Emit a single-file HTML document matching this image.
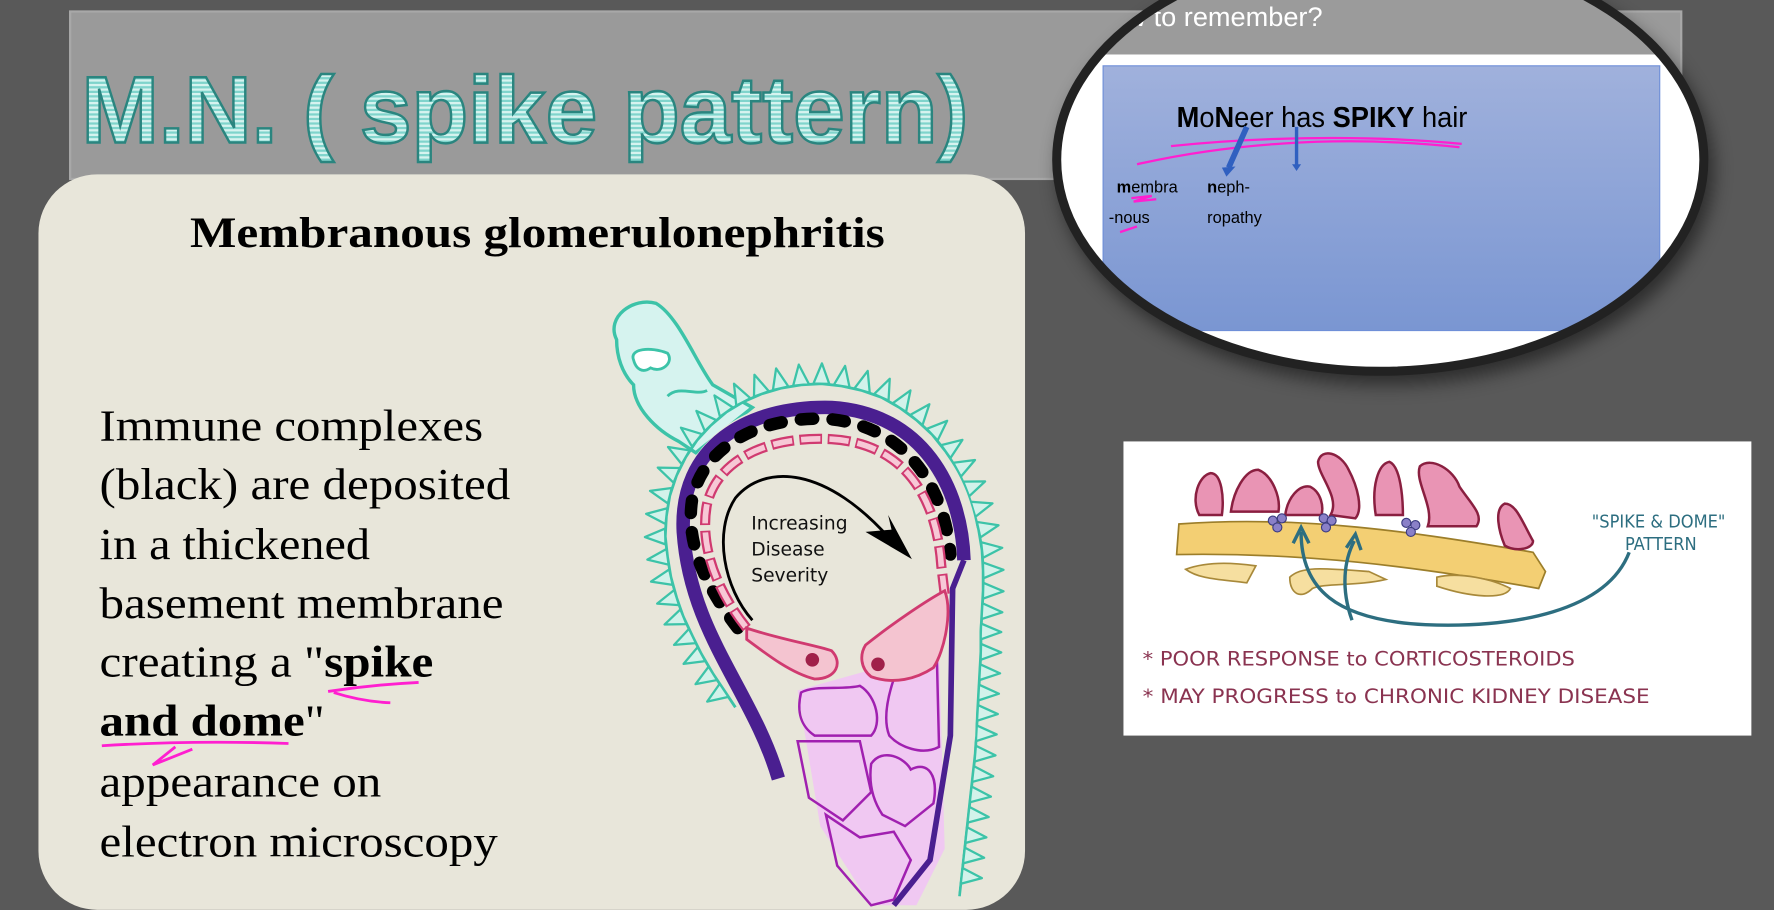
<!DOCTYPE html>
<html><head><meta charset="utf-8"><style>
html,body{margin:0;padding:0;background:#595959;width:1774px;height:910px;overflow:hidden;}
svg{display:block}
</style></head><body>
<svg width="1774" height="910" viewBox="0 0 1568 804" xmlns="http://www.w3.org/2000/svg">
<defs>
<pattern id="st" width="10" height="4" patternUnits="userSpaceOnUse">
<rect width="10" height="4" fill="#d6f3ef"/><rect width="10" height="2" fill="#7fd4cc"/>
</pattern>
<linearGradient id="bl" x1="0" y1="0" x2="0" y2="1"><stop offset="0" stop-color="#a0b1dc"/><stop offset="1" stop-color="#7a96d2"/></linearGradient>
<clipPath id="ov"><ellipse cx="1220" cy="141" rx="286" ry="187"/></clipPath>
<filter id="sh" x="-20%" y="-20%" width="140%" height="140%"><feGaussianBlur stdDeviation="8"/></filter>
<marker id="tri" markerUnits="userSpaceOnUse" markerWidth="40" markerHeight="40" refX="0" refY="0" viewBox="-20 -20 40 40" orient="auto" overflow="visible">
<path d="M-7 0 L7 0 L0 -18 Z" fill="#d2f2ea" stroke="#3cc3a8" stroke-width="2" stroke-linejoin="round"/>
</marker>
</defs>
<rect width="1568" height="804" fill="#595959"/>
<rect x="62" y="10" width="1424" height="148" fill="#9a9a9a" stroke="#a8a8a8" stroke-width="2"/>
<text x="72" y="126" font-family="Liberation Sans, sans-serif" font-weight="bold" font-size="84" fill="url(#st)" stroke="#2a857f" stroke-width="2.2" textLength="784" lengthAdjust="spacingAndGlyphs">M.N. ( spike pattern)</text>

<!-- card -->
<rect x="34" y="154" width="872" height="650" rx="52" fill="#e8e6da"/>
<text x="168" y="218" font-family="Liberation Serif, serif" font-weight="bold" font-size="38" fill="#000" textLength="614" lengthAdjust="spacingAndGlyphs">Membranous glomerulonephritis</text>
<g font-family="Liberation Serif, serif" font-size="39" fill="#000">
<text x="88" y="389" textLength="339" lengthAdjust="spacingAndGlyphs">Immune complexes</text>
<text x="88" y="441" textLength="363" lengthAdjust="spacingAndGlyphs">(black) are deposited</text>
<text x="88" y="494" textLength="239" lengthAdjust="spacingAndGlyphs">in a thickened</text>
<text x="88" y="546" textLength="357" lengthAdjust="spacingAndGlyphs">basement membrane</text>
<text x="88" y="598" textLength="295" lengthAdjust="spacingAndGlyphs">creating a "<tspan font-weight="bold">spike</tspan></text>
<text x="88" y="650" textLength="199" lengthAdjust="spacingAndGlyphs"><tspan font-weight="bold">and dome</tspan>"</text>
<text x="88" y="704" textLength="249" lengthAdjust="spacingAndGlyphs">appearance on</text>
<text x="88" y="757" textLength="352" lengthAdjust="spacingAndGlyphs">electron microscopy</text>
</g>
<path d="M290 611 Q330 605 370 603 M295 612 Q320 620 345 621" stroke="#ff1fd0" stroke-width="2.5" fill="none"/>
<path d="M90 659 Q170 654 255 657 M155 660 L135 676 L170 662" stroke="#ff1fd0" stroke-width="2.5" fill="none"/>

<!-- glomerulus diagram -->
<path d="M545 300 C535 280 560 262 580 268 C600 280 615 320 630 340 L665 360 L640 380 L615 400 L600 390 C580 380 560 360 560 340 C550 330 545 315 545 300 Z" fill="#d6f3ef" stroke="#3cc3a8" stroke-width="3"/>
<path d="M560 318 C556 308 575 306 590 312 C596 320 585 330 575 325 C568 330 562 326 560 318Z" fill="#fff" stroke="#3cc3a8" stroke-width="2.5"/>
<path d="M590 350 C600 340 615 350 625 345" fill="none" stroke="#3cc3a8" stroke-width="2.5"/>
<!-- teal spikes -->
<polyline points="650,625 640,610 630,595 620,578 612,562 604,545 598,528 593,510 590,492 588,474 589,456 592,438 598,420 606,404 616,389 628,376 642,364 657,355 673,348 690,343 708,340 726,339 744,341 762,345 779,351 795,360 810,371 824,384 836,399 846,415 854,432 860,450 865,468 868,486 869,504 869,522 868,540 867,558 867,576 866,594 865,612 864,630 863,648 862,666 860,684 858,702 856,720 854,738 852,756 850,774 848,792" fill="none" stroke="#3cc3a8" stroke-width="2.5" marker-mid="url(#tri)"/>
<!-- inner fill -->
<path d="M688 688 C660 620 600 560 598 460 C598 390 660 350 735 350 C820 355 866 420 866 500 L862 650 L846 800 L720 800 L690 690 Z" fill="#e8e6da"/>
<!-- purple bottom cells -->
<path d="M705 610 L830 575 L835 750 L810 800 L770 800 L725 730 Z" fill="#f0c8f2"/>
<g fill="none" stroke="#a020b0" stroke-width="2.2">
<path d="M708 612 C720 605 745 610 760 606 C775 615 780 640 770 650 L720 650 C705 640 705 625 708 612Z"/>
<path d="M790 600 L828 578 L830 660 C815 668 795 660 786 650 C780 635 785 615 790 600Z"/>
<path d="M705 655 L760 655 L770 700 L745 725 L715 705 Z"/>
<path d="M770 675 C780 660 800 670 805 680 C820 672 830 685 825 710 L800 730 L780 720 C770 705 768 690 770 675Z"/>
<path d="M730 720 L760 740 L790 735 L805 760 L790 795 L770 800 L740 765 Z"/>
</g>
<!-- purple band -->
<path d="M688 688 C665 610 610 560 604 470 C600 395 660 358 735 360 C815 365 850 430 852 495" fill="none" stroke="#4a1f90" stroke-width="12" stroke-linejoin="round"/>
<path d="M852 495 L842 520 L840 650 L822 760 L790 800" fill="none" stroke="#4a1f90" stroke-width="5" stroke-linejoin="round"/>
<!-- black dots -->
<path d="M652 555 C625 520 605 480 612 440 C622 395 670 368 730 370 C800 375 835 430 840 490" fill="none" stroke="#000" stroke-width="11" stroke-dasharray="11 17" stroke-linecap="round"/>
<!-- pink ellipse ring -->
<path d="M660 555 C632 520 618 480 625 445 C635 405 680 385 735 388 C800 392 828 440 832 500 L835 525" fill="none" stroke="#d03a70" stroke-width="9" stroke-dasharray="20 5"/>
<path d="M660 555 C632 520 618 480 625 445 C635 405 680 385 735 388 C800 392 828 440 832 500 L835 525" fill="none" stroke="#f7c8d6" stroke-width="5" stroke-dasharray="17 8" stroke-dashoffset="-1.5"/>
<!-- pink cells -->
<path d="M660 555 C690 565 720 570 735 575 C745 585 740 600 720 600 C700 595 680 580 660 565Z" fill="#f4c4d0" stroke="#d03a70" stroke-width="2.5"/>
<circle cx="718" cy="583" r="6" fill="#a0204a"/>
<path d="M765 570 C790 550 820 530 835 522 C842 540 835 575 825 590 C810 600 790 605 770 598 C760 590 760 578 765 570Z" fill="#f4c4d0" stroke="#d03a70" stroke-width="2.5"/>
<circle cx="776" cy="587" r="6" fill="#a0204a"/>
<!-- black arrow -->
<path d="M665 548 C640 520 630 470 650 440 C675 410 730 410 790 480" fill="none" stroke="#000" stroke-width="2.5"/>
<path d="M765 470 L806 494 L785 455 L788 468 Z" fill="#000"/>
<g font-family="DejaVu Sans, sans-serif" font-size="16.5" fill="#111">
<text x="664" y="468">Increasing</text><text x="664" y="491">Disease</text><text x="664" y="514">Severity</text>
</g>

<!-- magnifier oval -->
<ellipse cx="1225" cy="150" rx="290" ry="190" fill="#000" opacity="0.5" filter="url(#sh)"/>
<g clip-path="url(#ov)">
<rect x="900" y="-60" width="650" height="420" fill="#fff"/>
<rect x="900" y="-60" width="650" height="108" fill="#9b9b9b"/>
<text x="965" y="23" font-family="Liberation Sans, sans-serif" font-size="24" fill="#fff">How to remember?</text>
<rect x="975" y="58" width="492" height="234" fill="url(#bl)" stroke="#6f8fd8" stroke-width="1"/>
<text x="1040" y="112" font-family="Liberation Sans, sans-serif" font-size="25" fill="#000" textLength="257" lengthAdjust="spacingAndGlyphs"><tspan font-weight="bold">M</tspan>o<tspan font-weight="bold">N</tspan>eer  has  <tspan font-weight="bold">SPIKY</tspan> hair</text>
<g font-family="Liberation Sans, sans-serif" font-size="14.5" fill="#000">
<text x="987" y="170"><tspan font-weight="bold">m</tspan>embra</text>
<text x="980" y="197">-nous</text>
<text x="1067" y="170"><tspan font-weight="bold">n</tspan>eph-</text>
<text x="1067" y="197">ropathy</text>
</g>
<path d="M1035 129 C1100 122 1200 118 1292 127 M1005 145 C1080 128 1180 118 1290 130" stroke="#ff1fd0" stroke-width="2" fill="none"/>
<path d="M1000 175 L1018 173 L1002 178 L1022 176 M990 205 L1005 200" stroke="#ff1fd0" stroke-width="2" fill="none"/>
<path d="M1102 112 L1086 148" stroke="#3060c0" stroke-width="5"/>
<path d="M1080 148 L1092 147 L1084 156 Z" fill="#3060c0"/>
<path d="M1146 112 L1146 146" stroke="#3060c0" stroke-width="3"/>
<path d="M1142 145 L1150 145 L1146 151 Z" fill="#3060c0"/>
</g>
<ellipse cx="1220" cy="141" rx="286" ry="187" fill="none" stroke="#222" stroke-width="8"/>

<!-- spike & dome image -->
<rect x="993" y="390" width="555" height="260" fill="#fff"/>
<path d="M1042 463 C1150 455 1250 470 1355 488 L1366 505 L1360 520 C1250 500 1150 488 1040 490 Z" fill="#f3cf73" stroke="#9c7e2a" stroke-width="1.5"/>
<g fill="#f6dfa0" stroke="#a8893a" stroke-width="1.5">
<path d="M1048 503 C1070 495 1095 498 1110 500 L1102 515 C1080 512 1060 512 1048 503Z"/>
<path d="M1140 510 C1150 500 1170 502 1210 505 L1225 512 C1200 518 1170 515 1160 520 C1150 530 1140 525 1140 510Z"/>
<path d="M1270 510 C1290 505 1320 512 1335 520 C1330 530 1300 528 1270 518Z"/>
</g>
<g fill="#e994b4" stroke="#8a1f40" stroke-width="2.2">
<path d="M1060 455 C1052 440 1060 420 1070 418 C1080 418 1082 440 1080 455Z"/>
<path d="M1088 452 C1090 435 1100 415 1112 415 C1125 420 1132 440 1130 452Z"/>
<path d="M1136 455 C1138 440 1148 428 1158 430 C1168 435 1170 448 1168 455Z"/>
<path d="M1176 455 C1185 440 1165 420 1165 408 C1168 395 1185 400 1192 415 C1200 430 1205 450 1198 458Z"/>
<path d="M1216 455 C1212 430 1218 410 1228 408 C1238 412 1240 440 1240 455Z"/>
<path d="M1262 465 C1268 448 1250 425 1255 412 C1265 403 1285 415 1290 430 C1300 445 1312 455 1305 465Z"/>
<path d="M1330 482 C1325 470 1320 450 1330 445 C1340 445 1345 460 1355 478 C1355 485 1340 488 1330 482Z"/>
</g>
<g fill="#8a80c8" stroke="#3b3b80" stroke-width="1">
<circle cx="1125" cy="460" r="4"/><circle cx="1133" cy="458" r="4"/><circle cx="1129" cy="466" r="4"/>
<circle cx="1170" cy="458" r="4"/><circle cx="1177" cy="460" r="4"/><circle cx="1172" cy="466" r="4"/>
<circle cx="1243" cy="462" r="4"/><circle cx="1251" cy="464" r="4"/><circle cx="1247" cy="470" r="4"/>
</g>
<path d="M1440 488 C1420 540 1340 555 1260 552 C1180 548 1150 520 1150 470" fill="none" stroke="#2d6e80" stroke-width="3"/>
<path d="M1195 548 C1185 520 1188 495 1197 478" fill="none" stroke="#2d6e80" stroke-width="3"/>
<path d="M1143 480 L1150 466 L1157 480 M1190 484 L1198 472 L1203 486" fill="none" stroke="#2d6e80" stroke-width="3"/>
<g font-family="DejaVu Sans Condensed, DejaVu Sans, sans-serif" fill="#2d6e80" font-size="16" text-anchor="middle">
<text x="1466" y="466">"SPIKE &amp; DOME"</text><text x="1468" y="486">PATTERN</text>
</g>
<g font-family="DejaVu Sans Condensed, DejaVu Sans, sans-serif" fill="#8a3350" font-size="17">
<text x="1010" y="588" textLength="382" lengthAdjust="spacingAndGlyphs">* POOR RESPONSE to CORTICOSTEROIDS</text>
<text x="1010" y="621" textLength="448" lengthAdjust="spacingAndGlyphs">* MAY PROGRESS to CHRONIC KIDNEY DISEASE</text>
</g>
</svg>
</body></html>
